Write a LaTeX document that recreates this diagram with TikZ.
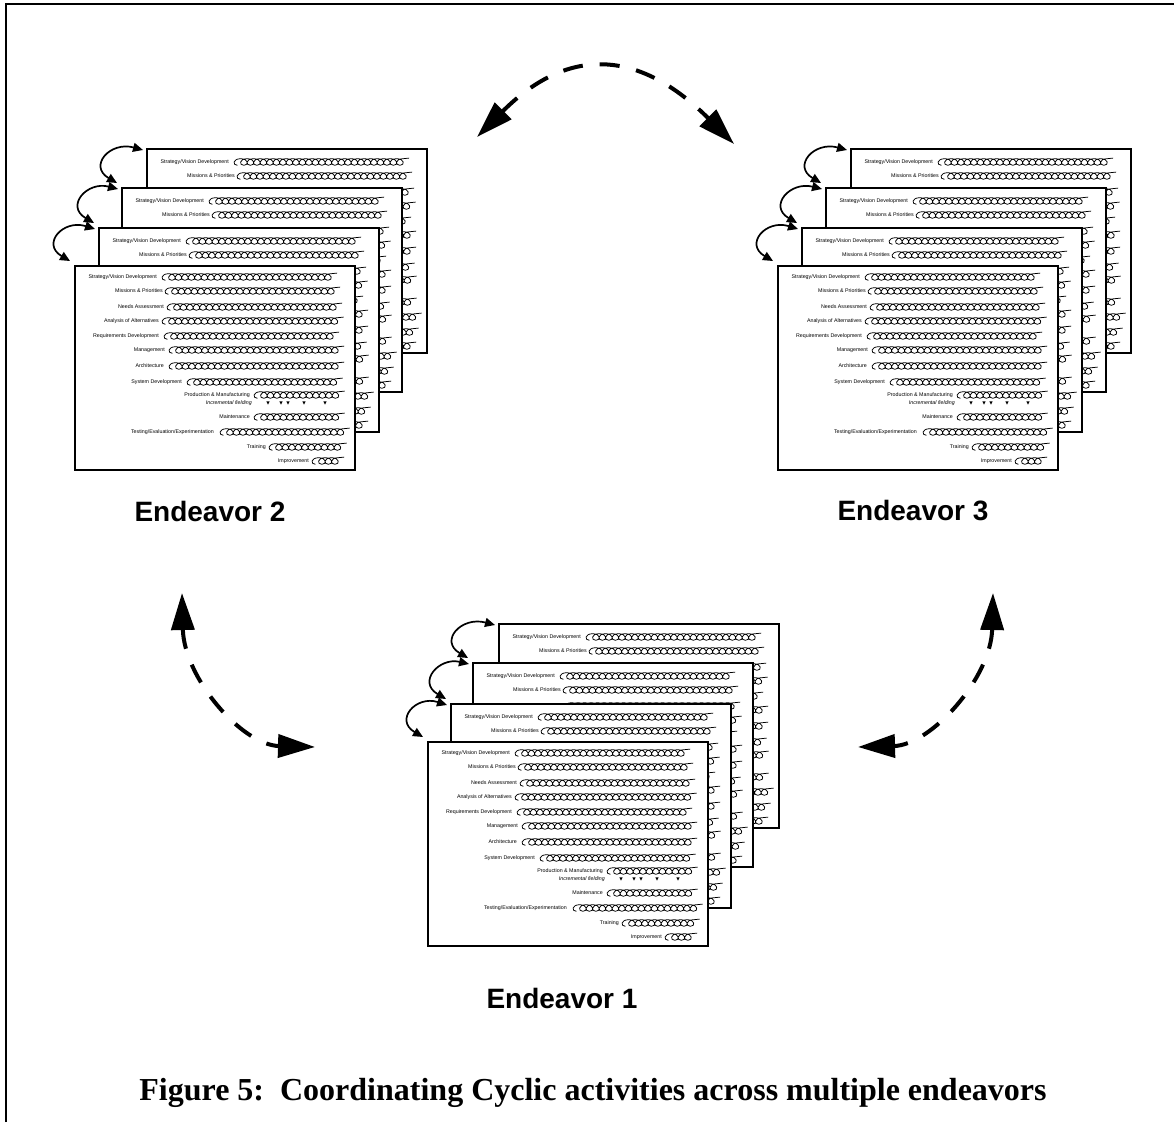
\documentclass[tikz,border=0pt]{standalone}
\usepackage{fontspec}
\newfontfamily\lsans{Liberation Sans}
\newfontfamily\lserif{Liberation Serif}
\usetikzlibrary{arrows.meta,shadows,calc}

% one coil: #1 start x, #2 end x, #3 row y
\newcommand\coilrow[3]{%
  \pgfmathtruncatemacro\coilN{(#2-#1-7.65)/6.5}%
  \draw[coilline] (#1+3.4,#3+3.3)
    \foreach \ci in {1,...,\coilN}{
      .. controls +(-5.2,0) and +(-7.9,0) .. ++(3.25,-6.6)
      .. controls +(7.9,0) and +(5.2,0) .. ++(3.25,6.6)}
    .. controls +(-5.2,0) and +(-7.9,0) .. ++(3.25,-6.6) -- ++(6,-0.6);
}
\newcommand\docrow[6]{%
  \node[lbl] (-#1) at (#3,#6) {#2};
  \coilrow{#4}{#5}{#6}
}
\newcommand\fieldtri[1]{\fill (#1-1.7,135.3) -- (#1+1.7,135.3) -- (#1,138.7) -- cycle;}
% page: #1 name, #2 x, #3 y, #4 content shift
\newcommand\docpg[4]{%
  \node[pagebox] (#1) at (#2,#3) {};
  \pic (#1c) at ($(#1.north west)+(0,#4)$) {docpage};
}
\newcommand\pgarrow[3]{%
  \coordinate (#1t) at ($(#2.north west)+(-4,1)$);
  \coordinate (#1b) at ($(#3.north west)+(-5,-5)$);
  \draw[smallarrow] (#1t) .. controls ($(#3.north west)+(-12,-47)$) and ($(#3.north west)+(-34,-22)$) .. (#1b);
}

\tikzset{
  lbl/.style={font=\lsans\fontsize{5.3pt}{6pt}\selectfont, inner sep=0pt, anchor=east},
  ilbl/.style={lbl, font=\lsans\itshape\fontsize{5.3pt}{6pt}\selectfont},
  coilline/.style={line width=0.75pt},
  pagebox/.style={draw, line width=1.1pt, fill=white, minimum width=280pt, minimum height=204pt,
    inner sep=0pt, outer sep=0pt, anchor=north west,
    drop shadow={shadow xshift=1.3pt, shadow yshift=-1.3pt, opacity=1, fill=black}},
  smallarrow/.style={line width=1.7pt, {Triangle[length=10pt,width=9pt]}-{Triangle[length=10pt,width=9pt]}},
  bigarrow/.style={line width=4pt, dash pattern=on 20pt off 17pt,
    {Triangle[length=37pt,width=23pt]}-{Triangle[length=37pt,width=23pt]}},
  endlbl/.style={font=\lsans\bfseries\fontsize{28pt}{33pt}\selectfont, inner sep=0pt},
  caption/.style={font=\lserif\bfseries\fontsize{32pt}{38pt}\selectfont, inner sep=0pt},
  pics/docpage/.style={code={
    \docrow{r1}{Strategy/Vision Development}{82}{87}{262}{11}
    \docrow{r2}{Missions \& Priorities}{88}{90}{265}{25}
    \docrow{r3}{Needs Assessment}{89}{92}{267}{41}
    \docrow{r4}{Analysis of Alternatives}{84}{87}{270}{55}
    \docrow{r5}{Requirements Development}{84}{89}{265}{70}
    \docrow{r6}{Management}{90}{94}{270}{84}
    \docrow{r7}{Architecture}{89}{94}{269}{100}
    \docrow{r8}{System Development}{107}{112}{269}{116}
    \docrow{r9}{Production \& Manufacturing}{175}{179}{269}{129}
    \node[ilbl] (-r10) at (177,137.5) {Incremental fielding};
    \fieldtri{193}\fieldtri{206}\fieldtri{213}\fieldtri{229}\fieldtri{250}
    \docrow{r11}{Maintenance}{175}{179}{270}{151}
    \docrow{r12}{Testing/Evaluation/Experimentation}{139}{145}{270}{166}
    \docrow{r13}{Training}{191}{194}{269}{181}
    \docrow{r14}{Improvement}{234}{237}{270}{195}
  }}
}

\begin{document}
\begin{tikzpicture}[x=1pt,y=-1pt]
\useasboundingbox (0,0) rectangle (1174,1122);
\draw[line width=1.3pt] (6,1122) -- (6,4) -- (1174,4);

% Endeavor 2
\docpg{e2p4}{147}{149}{2}
\docpg{e2p3}{122}{188}{2}
\docpg{e2p2}{99}{228}{2}
\docpg{e2p1}{75}{266}{0}
\pgarrow{e2a3}{e2p4}{e2p3}
\pgarrow{e2a2}{e2p3}{e2p2}
\pgarrow{e2a1}{e2p2}{e2p1}
\node[endlbl] (e2lbl) at (210,511) {Endeavor 2};

% Endeavor 3
\docpg{e3p4}{851}{149}{2}
\docpg{e3p3}{826}{188}{2}
\docpg{e3p2}{802}{228}{2}
\docpg{e3p1}{778}{266}{0}
\pgarrow{e3a3}{e3p4}{e3p3}
\pgarrow{e3a2}{e3p3}{e3p2}
\pgarrow{e3a1}{e3p2}{e3p1}
\node[endlbl] (e3lbl) at (913,511) {Endeavor 3};

% Endeavor 1
\docpg{e1p4}{499}{624}{2}
\docpg{e1p3}{473}{663}{2}
\docpg{e1p2}{451}{704}{2}
\docpg{e1p1}{428}{742}{0}
\pgarrow{e1a3}{e1p4}{e1p3}
\pgarrow{e1a2}{e1p3}{e1p2}
\pgarrow{e1a1}{e1p2}{e1p1}
\node[endlbl] (e1lbl) at (562,998) {Endeavor 1};

% big dashed arrows
\coordinate (t23a) at (477,137);
\coordinate (t23b) at (734,144);
\draw[bigarrow] (t23a) .. controls (570,44) and (641,51) .. (t23b);
\coordinate (l21a) at (182,593);
\coordinate (l21b) at (315,747);
\draw[bigarrow] (l21a) .. controls (184,678) and (242,745) .. (l21b);
\coordinate (r31a) at (993,593);
\coordinate (r31b) at (858,747);
\draw[bigarrow] (r31a) .. controls (991,678) and (931,745) .. (r31b);

\node[caption] (cap) at (593,1093) {Figure 5:\ \ Coordinating Cyclic activities across multiple endeavors};
\end{tikzpicture}
\end{document}
